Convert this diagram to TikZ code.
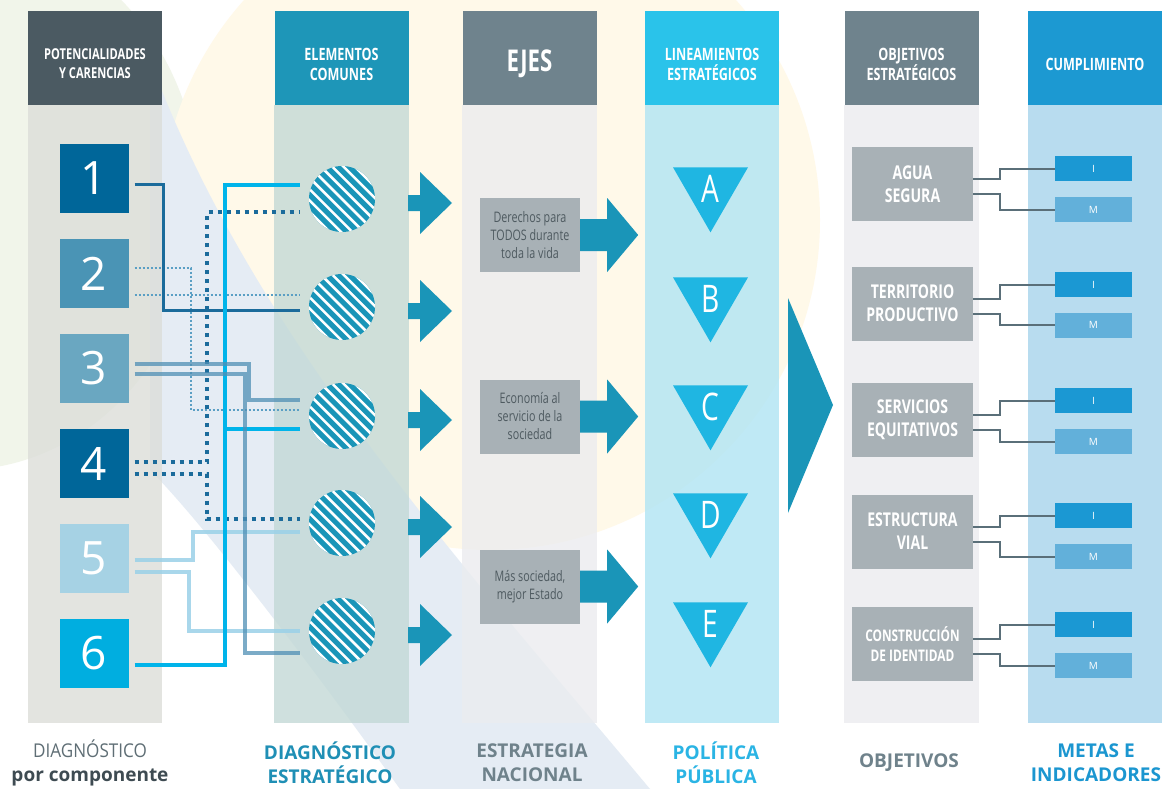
\documentclass[tikz,border=0pt]{standalone}
\usepackage{fontspec}
\setmainfont{Open Sans}
\newfontfamily\condfont[FakeStretch=0.74]{Open Sans}
\newfontfamily\semifont[FakeStretch=0.9]{Open Sans}
\usepackage{xcolor}
\usetikzlibrary{shapes.geometric,positioning,calc}

\definecolor{hdrslate}{HTML}{4B5A62}
\definecolor{hdrteal}{HTML}{1E96B8}
\definecolor{hdrgray}{HTML}{6F838D}
\definecolor{hdrcyan}{HTML}{2AC3EA}
\definecolor{hdrblue}{HTML}{1C99D2}
\definecolor{bodyone}{HTML}{DCDED9}
\definecolor{bodytwo}{HTML}{C3D9D6}
\definecolor{bodygray}{HTML}{EBECEF}
\definecolor{bodycyan}{HTML}{AFE4F3}
\definecolor{bodyblue}{HTML}{A7D4EB}
\definecolor{arrowteal}{HTML}{1A95B8}
\definecolor{triblue}{HTML}{1FB6E2}
\definecolor{boxgray}{HTML}{A8B1B6}
\definecolor{ejetext}{HTML}{4E5A60}
\definecolor{linkgray}{HTML}{5A6F79}
\definecolor{indblue}{HTML}{1B98D3}
\definecolor{metblue}{HTML}{62B0DA}
\definecolor{numdark}{HTML}{006699}
\definecolor{numtwo}{HTML}{4A94B5}
\definecolor{numthree}{HTML}{6AA7C1}
\definecolor{numfive}{HTML}{A6D2E4}
\definecolor{numsix}{HTML}{00AEE0}
\definecolor{wiredark}{HTML}{1B6B9B}
\definecolor{wirecyan}{HTML}{00B4EA}
\definecolor{wiresteel}{HTML}{4F8FB5}
\definecolor{wirelight}{HTML}{9AD1E8}
\definecolor{wiredot}{HTML}{5A9FC4}
\definecolor{bgyellow}{HTML}{FFF9E9}
\definecolor{bggreen}{HTML}{F1F5EA}
\definecolor{bgblue}{HTML}{E5ECF4}
\definecolor{footslate}{HTML}{3E4B52}
\definecolor{footgray}{HTML}{5F6E75}
\definecolor{footteal}{HTML}{1F8FB5}
\definecolor{footsteel}{HTML}{6F828B}
\definecolor{footcyan}{HTML}{2AB4E4}
\definecolor{footblue}{HTML}{1B96D0}

\begin{document}
\begin{tikzpicture}[x=1pt, y=-1pt,
    header/.style={rectangle, minimum width=134pt, minimum height=94pt, inner sep=0pt},
    hdrtext/.style={text=white, align=center, yshift=-6pt, font=\condfont\bfseries\fontsize{17}{20}\selectfont},
    numbox/.style={rectangle, minimum size=69pt, inner sep=0pt, outer sep=6pt, text=white, font=\fontsize{46}{46}\selectfont},
    disc/.style={circle, minimum size=66pt, inner sep=0pt, outer sep=9pt, fill=arrowteal},
    ejebox/.style={rectangle, fill=boxgray, minimum width=100pt, minimum height=74pt, inner sep=0pt, text=ejetext, align=center, font=\condfont\fontsize{14.5}{18}\selectfont},
    linea/.style={regular polygon, regular polygon sides=3, shape border rotate=180, minimum size=86.6pt, inner sep=0pt, fill=triblue, text=white, font=\condfont\fontsize{38}{38}\selectfont},
    objbox/.style={rectangle, fill=boxgray, minimum width=121pt, minimum height=74pt, inner sep=0pt, text=white, align=center, font=\condfont\bfseries\fontsize{19}{23}\selectfont},
    ind/.style={rectangle, fill=indblue, minimum width=77pt, minimum height=25pt, inner sep=0pt, text=white, font=\fontsize{10}{10}\selectfont},
    meta/.style={ind, fill=metblue},
    link/.style={draw=linkgray, line width=2pt},
    foot/.style={align=center, font=\bfseries\fontsize{19}{24}\selectfont}]

    \fill[white] (0,0) rectangle (1167,789);
    \useasboundingbox (0,0) rectangle (1167,789);

    % Soft background
    \begin{scope}
    \clip (0,0) rectangle (1167,789);
    \fill[bggreen] (-40,200) ellipse [x radius=240, y radius=270];
    \fill[bgyellow] (490,220) circle (330);
    \fill[bgblue] (150,60) .. controls (250,330) and (450,550) .. (650,789) -- (400,789) .. controls (300,650) and (200,520) .. (150,470) -- cycle;
    \end{scope}

    % Column headers
    \node[header, fill=hdrslate, label={[hdrtext, font=\condfont\bfseries\fontsize{15}{19}\selectfont]center:{POTENCIALIDADES\\Y CARENCIAS}}] (h1) at (95,58) {};
    \node[header, fill=hdrteal, label={[hdrtext]center:{ELEMENTOS\\COMUNES}}] (h2) at (341.5,58) {};
    \node[header, fill=hdrgray, label={[hdrtext, font=\condfont\bfseries\fontsize{30}{30}\selectfont]center:{EJES}}] (h3) at (529.5,58) {};
    \node[header, fill=hdrcyan, label={[hdrtext]center:{LINEAMIENTOS\\ESTRATÉGICOS}}] (h4) at (712,58) {};
    \node[header, fill=hdrgray, label={[hdrtext]center:{OBJETIVOS\\ESTRATÉGICOS}}] (h5) at (911.5,58) {};
    \node[header, fill=hdrblue, label={[hdrtext]center:{CUMPLIMIENTO}}] (h6) at (1095,58) {};

    % Column bodies
    \foreach \h/\c in {h1/bodyone, h2/bodytwo, h3/bodygray, h4/bodycyan, h5/bodygray, h6/bodyblue}
        \fill[\c, fill opacity=0.8] (\h.south west) rectangle (\h.east |- 0,723);

    % Components
    \foreach \n/\c [count=\i] in {1/numdark, 2/numtwo, 3/numthree, 4/numdark, 5/numfive, 6/numsix}
        \node[numbox, fill=\c] (n\i) at (94, 178.5+95*\i-95) {\n};

    % Common elements
    \foreach \y [count=\i] in {199,307,416,523,631} {
        \node[disc] (c\i) at (342,\y) {};
        \begin{scope}
            \clip (342,\y) circle (33);
            \foreach \k in {-4,...,4}
                \draw[white, line width=2.6pt] (342+\k*11.3-45,\y-45) -- ++(90,90);
        \end{scope}
        \fill[arrowteal] (c\i.east) ++(24,-4) -- ++(12,0) -- ++(0,-23) -- ++(32,31) -- ++(-32,31) -- ++(0,-23) -- ++(-12,0) -- cycle;
    }

    % Links from components
    \draw[wiredot, line width=2pt, dash pattern=on 2pt off 2pt]
        (n2.east |- 0,268) -| (191,410) -- (c3.west |- 0,410)
        (n2.east |- 0,295) -- (c2.west |- 0,295);
    \draw[wiredark, line width=4pt, dash pattern=on 4pt off 5pt]
        (n4.east |- 0,462) -| (207,212) -- (c1.west |- 0,212)
        (n4.east |- 0,474) -| (207,519) -- (c4.west |- 0,519);
    \draw[wiredark, line width=3pt]
        (n1.east |- 0,184) -| (163,310) -- (c2.west |- 0,310);
    \draw[wirelight, line width=4pt, opacity=0.85]
        (n5.east |- 0,560) -| (193,532) -- (c4.west |- 0,532)
        (n5.east |- 0,572) -| (189,631) -- (c5.west |- 0,631);
    \draw[wirecyan, line width=4pt]
        (n6.east |- 0,665) -| (225,185) -- (c1.west |- 0,185)
        (225,429) -- (c3.west |- 0,429);
    \draw[wiresteel, line width=3.5pt, opacity=0.75]
        (n3.east |- 0,364) -| (249,400) -- (c3.west |- 0,400)
        (n3.east |- 0,374) -| (245,653) -- (c5.west |- 0,653);

    % National strategy
    \node[ejebox] (e1) at (530,235) {Derechos para\\TODOS durante\\toda la vida};
    \node[ejebox] (e2) at (530,416.5) {Economía al\\servicio de la\\sociedad};
    \node[ejebox] (e3) at (530,586.5) {Más sociedad,\\mejor Estado};
    \foreach \i in {1,2,3}
        \fill[arrowteal] (e\i.east) ++(0,-16) -- ++(27,0) -- ++(0,-21) -- ++(31,37) -- ++(-31,37) -- ++(0,-21) -- ++(-27,0) -- cycle;

    % Strategic lines
    \foreach \l/\y in {A/189, B/299, C/407, D/515, E/624}
        \node[linea] (t\l) at (710.5,\y) {\raisebox{-5pt}{\l}};

    \fill[arrowteal] (788,298) -- (833,405) -- (788,513) -- cycle;

    % Objectives and indicators
    \node[objbox] (o1) at (912.5,184) {AGUA\\SEGURA};
    \node[objbox] (o2) at (912.5,303.5) {TERRITORIO\\PRODUCTIVO};
    \node[objbox] (o3) at (912.5,420) {SERVICIOS\\EQUITATIVOS};
    \node[objbox] (o4) at (912.5,531.5) {ESTRUCTURA\\VIAL};
    \node[objbox, font=\condfont\bfseries\fontsize{16}{20}\selectfont] (o5) at (912.5,644) {CONSTRUCCIÓN\\DE IDENTIDAD};

    \foreach \yi/\ym [count=\i] in {168.5/209.5, 284.5/325, 400.5/441.5, 515.5/556.5, 624.5/665.5} {
        \node[ind] (i\i) at (1093.5,\yi) {I};
        \node[meta] (m\i) at (1093.5,\ym) {M};
        \draw[link] (o\i.east) ++(0,-5) -- ++(27,0) |- (i\i.west);
        \draw[link] (o\i.east) ++(0,10) -- ++(27,0) |- (m\i.west);
    }

    % Footers
    \node[foot, text=footslate] (f1) at (90,763) {{\semifont\mdseries\color{footgray}DIAGNÓSTICO}\\por componente};
    \node[foot, text=footteal] (f2) at (330,763) {DIAGNÓSTICO\\ESTRATÉGICO};
    \node[foot, text=footsteel] (f3) at (532,763) {ESTRATEGIA\\NACIONAL};
    \node[foot, text=footcyan] (f4) at (716,763) {POLÍTICA\\PÚBLICA};
    \node[foot, text=footsteel] (f5) at (909,763) {OBJETIVOS};
    \node[foot, text=footblue] (f6) at (1096,763) {METAS E\\INDICADORES};

\end{tikzpicture}
\end{document}
